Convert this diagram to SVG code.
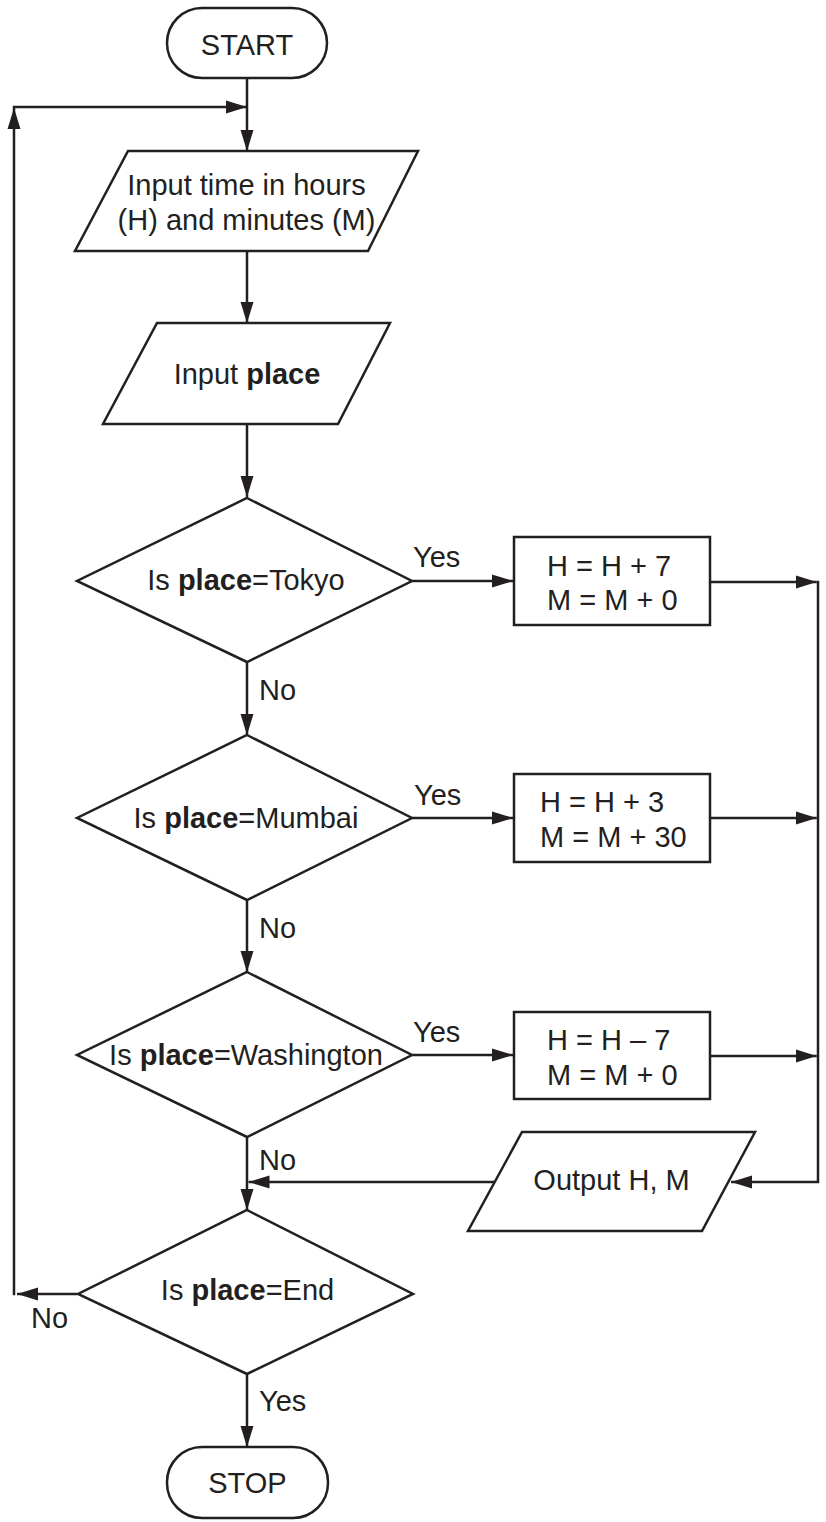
<svg xmlns="http://www.w3.org/2000/svg" width="826" height="1522" viewBox="0 0 826 1522">
<style>
.s{fill:#ffffff;stroke:#231f20;stroke-width:2.5;stroke-linejoin:miter}
.c{fill:none;stroke:#231f20;stroke-width:2.5}
.a{fill:none;stroke:#231f20;stroke-width:2.5;marker-end:url(#ah)}
text{font-family:"Liberation Sans",Arial,sans-serif;font-size:29px;fill:#231f20}
.m{text-anchor:middle}
.b{font-weight:bold}
</style>
<defs>
<marker id="ah" markerUnits="userSpaceOnUse" markerWidth="22" markerHeight="14" viewBox="0 0 22 14" refX="21" refY="7" orient="auto">
<path d="M0,0.5 L21,7 L0,13.5 Z" fill="#231f20"/>
</marker>
</defs>
<rect width="826" height="1522" fill="#ffffff"/>
<g id="connectors">
<path class="a" d="M247,78 V151"/>
<path class="a" d="M12.75,107 H247"/>
<path class="a" d="M14,1295.25 V108"/>
<path class="a" d="M77,1294 H17"/>
<path class="a" d="M247,251 V323"/>
<path class="a" d="M247,424 V497"/>
<path class="a" d="M412,581 H513"/>
<path class="a" d="M412,818 H513"/>
<path class="a" d="M412,1055 H513"/>
<path class="a" d="M710,582 H816.75"/>
<path class="a" d="M710,818 H816.75"/>
<path class="a" d="M710,1056 H816.75"/>
<path class="a" d="M818,580.75 V1182 H731"/>
<path class="a" d="M496,1182 H248.5"/>
<path class="a" d="M247,662 V735"/>
<path class="a" d="M247,900 V972"/>
<path class="a" d="M247,1137 V1210"/>
<path class="a" d="M247,1374 V1447"/>
<text x="413" y="567">Yes</text>
<text x="414" y="805">Yes</text>
<text x="413" y="1042">Yes</text>
<text x="259" y="700">No</text>
<text x="259" y="938">No</text>
<text x="259" y="1170">No</text>
<text x="31" y="1328">No</text>
<text x="259" y="1411">Yes</text>
</g>
<g id="start">
<rect class="s" x="167" y="8" width="160" height="70" rx="35" ry="35"/>
<text class="m" x="247" y="55">START</text>
</g>
<g id="input-time">
<polygon class="s" points="128,151 418,151 368,251 75,251"/>
<text class="m" x="246.5" y="195">Input time in hours</text>
<text class="m" x="246.5" y="230">(H) and minutes (M)</text>
</g>
<g id="input-place">
<polygon class="s" points="157,323 390,323 338,424 103,424"/>
<text class="m" x="247" y="384">Input <tspan class="b">place</tspan></text>
</g>
<g id="is-tokyo">
<polygon class="s" points="247,498 412,581 247,662 77,581"/>
<text class="m" x="246" y="590">Is <tspan class="b">place</tspan>=Tokyo</text>
</g>
<g id="tokyo-calc">
<rect class="s" x="514" y="537" width="196" height="88"/>
<text x="547" y="576">H = H + 7</text>
<text x="547" y="610">M = M + 0</text>
</g>
<g id="is-mumbai">
<polygon class="s" points="247,735 412,818 247,900 77,818"/>
<text class="m" x="246" y="828">Is <tspan class="b">place</tspan>=Mumbai</text>
</g>
<g id="mumbai-calc">
<rect class="s" x="514" y="774" width="196" height="88"/>
<text x="540" y="812">H = H + 3</text>
<text x="540" y="847">M = M + 30</text>
</g>
<g id="is-washington">
<polygon class="s" points="247,972 412,1055 247,1137 77,1055"/>
<text class="m" x="246" y="1065">Is <tspan class="b">place</tspan>=Washington</text>
</g>
<g id="washington-calc">
<rect class="s" x="514" y="1012" width="196" height="87"/>
<text x="547" y="1050">H = H – 7</text>
<text x="547" y="1085">M = M + 0</text>
</g>
<g id="output">
<polygon class="s" points="522,1132 755,1132 702,1231 468,1231"/>
<text class="m" x="611.5" y="1190">Output H, M</text>
</g>
<g id="is-end">
<polygon class="s" points="247,1210 413,1294 247,1374 78,1294"/>
<text class="m" x="247.5" y="1300">Is <tspan class="b">place</tspan>=End</text>
</g>
<g id="stop">
<rect class="s" x="167" y="1447" width="161" height="71" rx="35" ry="35"/>
<text class="m" x="247.5" y="1493">STOP</text>
</g>
</svg>
